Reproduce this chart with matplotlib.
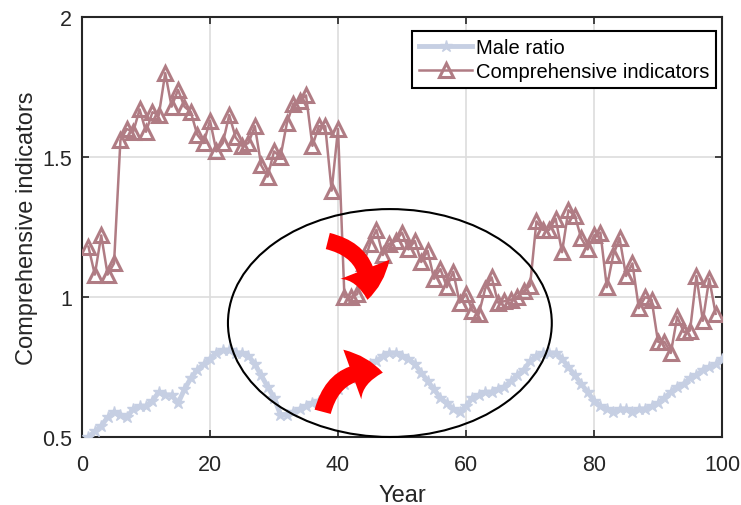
import numpy as np
import matplotlib.pyplot as plt
from matplotlib.patches import Ellipse, FancyArrowPatch

plt.rcParams['font.family'] = ['Liberation Sans', 'DejaVu Sans']

# male ratio (x = 1..100)
male_x = list(range(1, 101))
male_ratio = [0.50, 0.52, 0.54, 0.57, 0.59, 0.58, 0.57, 0.60, 0.61, 0.61,
              0.63, 0.66, 0.65, 0.65, 0.62, 0.67, 0.71, 0.74, 0.76, 0.78,
              0.80, 0.81, 0.81, 0.80, 0.80, 0.79, 0.76, 0.72, 0.68, 0.64,
              0.58, 0.58, 0.59, 0.60, 0.61, 0.62, 0.63, 0.64, 0.66, 0.67,
              0.69, 0.71, 0.73, 0.75, 0.76, 0.77, 0.79, 0.80, 0.80, 0.79,
              0.78, 0.76, 0.73, 0.70, 0.67, 0.64, 0.62, 0.60, 0.59, 0.61,
              0.64, 0.65, 0.66, 0.66, 0.67, 0.68, 0.70, 0.72, 0.74, 0.77,
              0.79, 0.80, 0.80, 0.80, 0.78, 0.75, 0.72, 0.69, 0.66, 0.63,
              0.61, 0.60, 0.59, 0.60, 0.60, 0.59, 0.60, 0.60, 0.61, 0.62,
              0.64, 0.66, 0.68, 0.69, 0.71, 0.72, 0.74, 0.75, 0.76, 0.78]

# comprehensive indicators (x = 1..99)
comp_x = list(range(1, 100))
comp = [1.18, 1.08, 1.22, 1.08, 1.12, 1.56, 1.60, 1.59, 1.67, 1.59,
        1.66, 1.65, 1.80, 1.68, 1.74, 1.68, 1.66, 1.58, 1.55, 1.63,
        1.52, 1.55, 1.65, 1.57, 1.54, 1.55, 1.61, 1.47, 1.43, 1.52,
        1.50, 1.62, 1.69, 1.70, 1.72, 1.54, 1.61, 1.61, 1.38, 1.60,
        1.00, 1.00, 1.01, 1.12, 1.19, 1.24, 1.15, 1.19, 1.20, 1.23,
        1.17, 1.20, 1.125, 1.165, 1.065, 1.10, 1.035, 1.09, 0.98, 1.01,
        0.95, 0.94, 1.03, 1.07, 0.98, 0.985, 0.99, 1.00, 1.02, 1.04,
        1.27, 1.24, 1.24, 1.28, 1.16, 1.31, 1.29, 1.21, 1.17, 1.22,
        1.23, 1.035, 1.15, 1.21, 1.075, 1.12, 0.96, 1.00, 0.99, 0.84,
        0.84, 0.80, 0.93, 0.875, 0.88, 1.075, 0.915, 1.065, 0.94]

blue = '#c6cfe3'
rose = '#b07c84'

fig = plt.figure(figsize=(7.41, 5.06), dpi=100)
ax = fig.add_axes([0.1107, 0.1344, 0.8637, 0.83])

ax.plot(male_x, male_ratio, color=blue, lw=3.5, marker='*', ms=9, mec=blue, mfc=blue,
        label='Male ratio', zorder=3)
ax.plot(comp_x, comp, color=rose, lw=1.8, marker='^', ms=10, mfc='none', mec=rose,
        mew=2.2, label='Comprehensive indicators', zorder=3)

# annotations
ell = Ellipse((48.1, 0.907), 50.6, 0.814, fill=False, ec='black', lw=1.5, zorder=4, clip_on=False)
ax.add_patch(ell)
style = 'simple,head_width=1.9,head_length=1.1,tail_width=0.6'
a1 = FancyArrowPatch((38.4, 1.20), (44.6, 0.99), connectionstyle='arc3,rad=-0.45',
                     arrowstyle=style, mutation_scale=20, color='red', lw=0,
                     shrinkA=0, shrinkB=0, zorder=5)
a2 = FancyArrowPatch((37.6, 0.59), (47.0, 0.73), connectionstyle='arc3,rad=-0.45',
                     arrowstyle=style, mutation_scale=20, color='red', lw=0,
                     shrinkA=0, shrinkB=0, zorder=5)
ax.add_patch(a1)
ax.add_patch(a2)

ax.set_xlim(0, 100)
ax.set_ylim(0.5, 2)
ax.set_xticks([0, 20, 40, 60, 80, 100])
ax.set_yticks([0.5, 1, 1.5, 2])
ax.set_yticklabels(['0.5', '1', '1.5', '2'])
ax.grid(True, color='#dddddd', lw=1.2)
ax.set_axisbelow(True)
ax.tick_params(direction='in', top=True, right=True, length=5, width=1.2,
               labelsize=15.5, colors='#262626')
ax.tick_params(axis='x', pad=12)
ax.tick_params(axis='y', pad=7)
for s in ax.spines.values():
    s.set_linewidth(1.5)
    s.set_color('#262626')

ax.set_xlabel('Year', fontsize=17, color='#262626', labelpad=7)
ax.set_ylabel('Comprehensive indicators', fontsize=17, color='#262626', labelpad=3)

leg = ax.legend(loc='upper right', bbox_to_anchor=(0.991, 0.967), fontsize=14.5,
                fancybox=False, framealpha=1, edgecolor='black', borderpad=0.35,
                handlelength=2.6, handletextpad=0.2, labelspacing=0.25, borderaxespad=0)
leg.get_frame().set_linewidth(1.5)

fig.savefig('out.png', dpi=100)
